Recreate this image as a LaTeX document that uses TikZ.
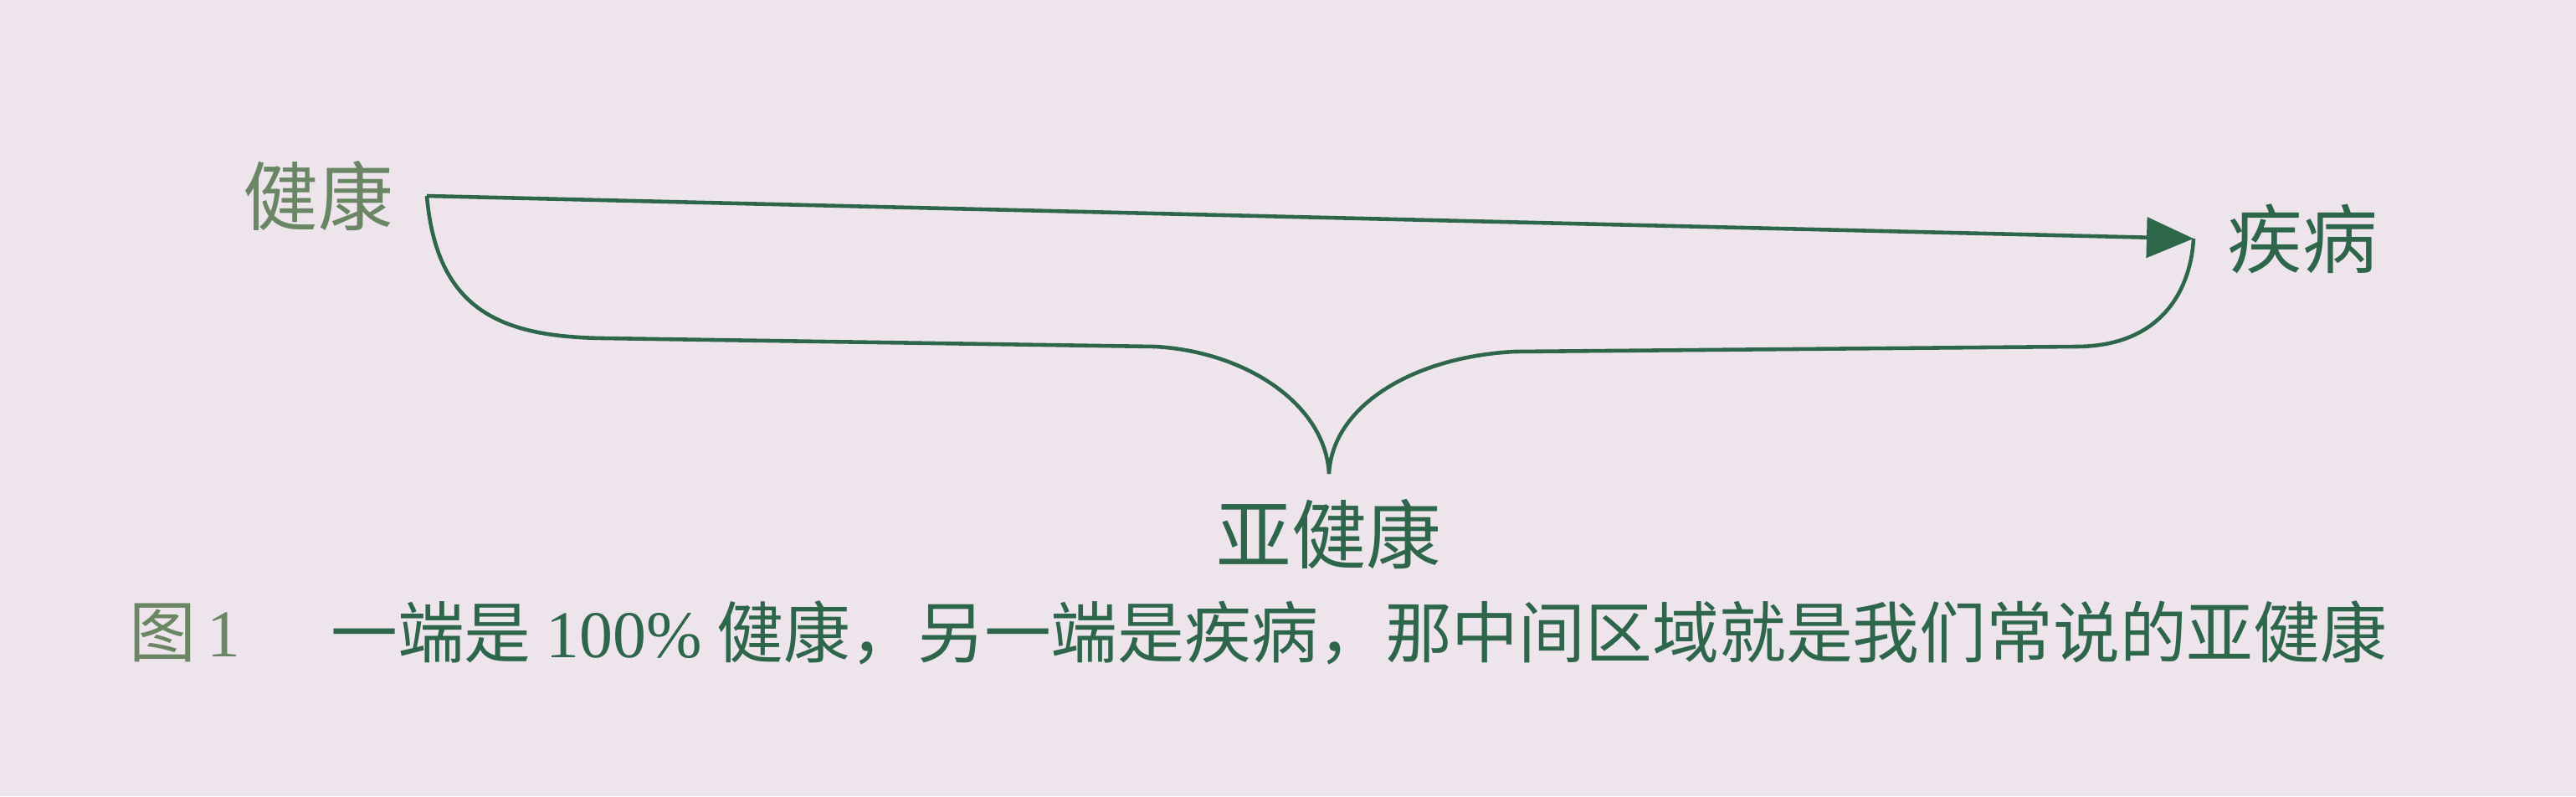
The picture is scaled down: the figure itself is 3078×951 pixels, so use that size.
\documentclass[tikz,border=0pt]{standalone}
\usepackage{fontspec}
\setmainfont{Noto Sans CJK SC}
\newfontfamily\latinfont{Liberation Serif}
\usepackage{xcolor}
\definecolor{paper}{RGB}{238,229,236}
\definecolor{ink}{RGB}{46,102,76}
\definecolor{fadeink}{RGB}{106,134,100}
\usetikzlibrary{arrows.meta}
\usetikzlibrary{positioning}

\tikzset{
  label text/.style={inner sep=0pt, font=\fontsize{25.5}{25.5}\selectfont},
  caption text/.style={inner sep=0pt, anchor=west, font=\fontsize{22.7}{22.7}\selectfont}
}

\begin{document}
\begin{tikzpicture}[x=0.01cm, y=-0.01cm, line width=1.3pt]

\fill[paper] (0,0) rectangle (3078,951);

\coordinate (start) at (510,234);
\coordinate (tip) at (2621,285);
\coordinate (cusp) at (1588,566);

\node[label text, color=fadeink, left=0.38cm of start] (health) {健康};
\node[label text, color=ink, right=0.38cm of tip] (disease) {疾病};
\node[label text, color=ink, below=0.28cm of cusp] (subhealth) {亚健康};

\draw[ink, -{Triangle[length=5.6mm, width=4.8mm]}] (start) -- (tip);

\draw[ink] (start) .. controls (522,372) and (600,402) .. (720,404)
  -- (1380,414) .. controls (1490,420) and (1584,484) .. (cusp)
  .. controls (1592,484) and (1690,426) .. (1810,420)
  -- (2480,414) .. controls (2586,414) and (2618,342) .. (tip);

\node[caption text, color=fadeink] (fignum) at (152,756) {图\,{\latinfont 1}};
\node[caption text, color=ink] (caption) at (393,756) {一端是 {\latinfont 100\%} 健康，另一端是疾病，那中间区域就是我们常说的亚健康};

\end{tikzpicture}
\end{document}
